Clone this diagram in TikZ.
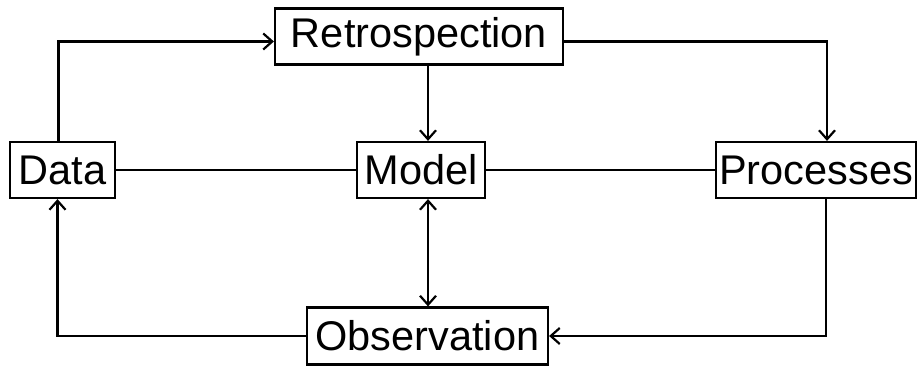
\documentclass[tikz,border=0pt]{standalone}
\usepackage{fontspec}
\setmainfont{Liberation Sans}
\usetikzlibrary{arrows.meta}
\begin{document}
\begin{tikzpicture}[x=1pt,y=-1pt,
  box/.style={draw,line width=2.2pt,inner sep=0pt,minimum height=56pt,font=\fontsize{41.5}{47}\selectfont},
  conn/.style={line width=2.4pt},
  >={Straight Barb[length=9pt,width=16pt,line width=2.2pt]}]
\useasboundingbox (0,0) rectangle (918,366);
\node[box,minimum width=288pt] (retro) at (419,36.5) {Retrospection};
\node[box,minimum width=105pt] (data) at (62.5,170) {Data};
\node[box,minimum width=128pt] (model) at (421,170) {Model};
\node[box,minimum width=200pt] (proc) at (816,170) {Processes};
\node[box,minimum width=241pt,minimum height=57pt] (obs) at (427.5,336) {Observation};
\draw[conn,->] ([xshift=-4pt]data.north) |- ([yshift=-5pt]retro.west);
\draw[conn,->] ([yshift=-5pt]retro.east) -| ([xshift=11pt]proc.north);
\draw[conn,->] ([xshift=7pt]model.north |- retro.south) -- ([xshift=7pt]model.north);
\draw[conn] (data.east) -- (model.west);
\draw[conn] (model.east) -- (proc.west);
\draw[conn,<->] ([xshift=7pt]model.south) -- ([xshift=7pt]model.south |- obs.north);
\draw[conn,->] ([xshift=10pt]proc.south) |- (obs.east);
\draw[conn,->] (obs.west) -| ([xshift=-5pt]data.south);
\end{tikzpicture}
\end{document}
